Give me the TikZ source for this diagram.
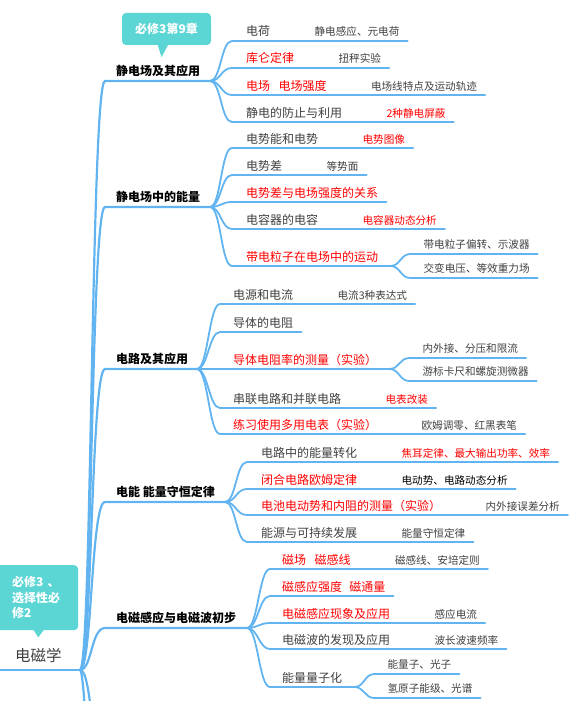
\documentclass[tikz,border=0pt]{standalone}
\usepackage{fontspec}
\setmainfont{Noto Sans CJK SC}
\usetikzlibrary{calc,positioning}
\definecolor{wire}{RGB}{98,180,240}
\definecolor{tagc}{RGB}{92,213,213}
\definecolor{ink}{RGB}{64,64,64}
\definecolor{hot}{RGB}{255,0,0}

\begin{document}
\begin{tikzpicture}[x=1pt,y=-1pt,
			trunk/.style={wire,line width=2.2pt,line cap=round},
			twig/.style={wire,line width=1.8pt,line cap=round},
			lroot/.style={inner sep=0pt,anchor=base west,text=ink,font=\fontsize{15.5}{18}\selectfont},
			lone/.style={inner sep=0pt,anchor=base west,text=black,font=\bfseries\fontsize{12}{14}\selectfont},
			ltwo/.style={inner sep=0pt,anchor=base west,font=\fontsize{12}{14}\selectfont},
			lthree/.style={inner sep=0pt,font=\fontsize{10.6}{12}\selectfont},
			tag/.style={fill=tagc,rounded corners=4pt,text=white,font=\bfseries\fontsize{12}{15.5}\selectfont}]
			
			\useasboundingbox (0,0) rectangle (577,701);
			\clip (0,0) rectangle (577,701);
			
			% The root
			\coordinate (o0) at (0,670);
			\coordinate (o) at (80,670);
			\node[lroot] (root) at (15,661) {电磁学};
			\draw[trunk] (o0) -- (o);
			% Branches running off the page
			\coordinate (d1) at (105,760);
			\coordinate (d2) at (105,880);
			\draw[trunk] (o) .. controls +(12,0) and +(-14,0) .. (d1);
			\draw[trunk] (o) .. controls +(6,0) and +(-14,0) .. (d2);
			
			% Branch 1: static field
			\coordinate (s1) at (105,81);
			\coordinate (e1) at (210,81);
			\node[lone] (t1) at (116,75) {静电场及其应用};
			\draw[trunk] (o) .. controls +(12,0) and +(-14,0) .. (s1) -- (e1);
			\foreach \n/\y/\txt/\tc/\sub/\sc in {1/41/电荷/ink/静电感应、元电荷/ink,
				2/68/库仑定律/hot/扭秤实验/ink,
				3/95/电场\hspace{0.7em}电场强度/hot/电场线特点及运动轨迹/ink,
				4/122/静电的防止与利用/ink/2种静电屏蔽/hot} {
				\coordinate (s1\n) at (232,\y);
				\node[ltwo,text=\tc] (t1\n) at (246,\y-5) {\txt};
				\node[lthree,text=\sc,base right=44pt of t1\n] (u1\n) {\sub};
				\coordinate (e1\n) at ($(u1\n.east |- s1\n)+(8,0)$);
				\draw[twig] (e1) .. controls +(11,0) and +(-11,0) .. (s1\n) -- (e1\n);
			}
			
			% Branch 2: energy in the field
			\coordinate (s2) at (105,207);
			\coordinate (e2) at (210,207);
			\node[lone] (t2) at (116,201) {静电场中的能量};
			\draw[trunk] (o) .. controls +(12,0) and +(-14,0) .. (s2) -- (e2);
			\foreach \n/\y/\txt/\tc/\sub/\sc in {1/148/电势能和电势/ink/电势图像/hot,
				2/175/电势差/ink/等势面/ink,
				4/229/电容器的电容/ink/电容器动态分析/hot} {
				\coordinate (s2\n) at (232,\y);
				\node[ltwo,text=\tc] (t2\n) at (246,\y-5) {\txt};
				\node[lthree,text=\sc,base right=44pt of t2\n] (u2\n) {\sub};
				\coordinate (e2\n) at ($(u2\n.east |- s2\n)+(8,0)$);
				\draw[twig] (e2) .. controls +(11,0) and +(-11,0) .. (s2\n) -- (e2\n);
			}
			\coordinate (s23) at (232,202);
			\node[ltwo,text=hot] (t23) at (246,197) {电势差与电场强度的关系};
			\coordinate (e23) at ($(t23.east |- s23)+(8,0)$);
			\draw[twig] (e2) .. controls +(11,0) and +(-11,0) .. (s23) -- (e23);
			% Fork under the moving charge
			\coordinate (s25) at (232,266);
			\node[ltwo,text=hot] (t25) at (246,261) {带电粒子在电场中的运动};
			\coordinate (e25) at ($(t25.east |- s25)+(12,0)$);
			\draw[twig] (e2) .. controls +(11,0) and +(-11,0) .. (s25) -- (e25);
			\foreach \k/\dy/\txt in {1/-12/带电粒子偏转、示波器, 2/12/交变电压、等效重力场} {
				\coordinate (s25\k) at ($(e25)+(20,\dy)$);
				\node[lthree,text=ink,anchor=base west] (t25\k) at ($(s25\k)+(13,-6)$) {\txt};
				\coordinate (e25\k) at ($(t25\k.east |- s25\k)+(8,0)$);
				\draw[twig] (e25) .. controls +(10,0) and +(-10,0) .. (s25\k) -- (e25\k);
			}
			
			% Branch 3: circuits
			\coordinate (s3) at (105,369);
			\coordinate (e3) at (197,369);
			\node[lone] (t3) at (116,363) {电路及其应用};
			\draw[trunk] (o) .. controls +(12,0) and +(-14,0) .. (s3) -- (e3);
			\foreach \n/\y/\txt/\tc/\sub/\sc in {1/304/电源和电流/ink/电流3种表达式/ink,
				4/408/串联电路和并联电路/ink/电表改装/hot,
				5/434/练习使用多用电表（实验）/hot/欧姆调零、红黑表笔/ink} {
				\coordinate (s3\n) at (220,\y);
				\node[ltwo,text=\tc] (t3\n) at (233,\y-5) {\txt};
				\node[lthree,text=\sc,base right=44pt of t3\n] (u3\n) {\sub};
				\coordinate (e3\n) at ($(u3\n.east |- s3\n)+(8,0)$);
				\draw[twig] (e3) .. controls +(11,0) and +(-11,0) .. (s3\n) -- (e3\n);
			}
			\coordinate (s32) at (220,332);
			\node[ltwo,text=ink] (t32) at (233,327) {导体的电阻};
			\coordinate (e32) at ($(t32.east |- s32)+(8,0)$);
			\draw[twig] (e3) .. controls +(11,0) and +(-11,0) .. (s32) -- (e32);
			% Fork under the resistivity lab
			\coordinate (s33) at (220,369);
			\node[ltwo,text=hot] (t33) at (233,364) {导体电阻率的测量（实验）};
			\coordinate (e33) at ($(t33.east |- s33)+(12,0)$);
			\draw[twig] (e3) -- (s33) -- (e33);
			\foreach \k/\dy/\txt in {1/-11/内外接、分压和限流, 2/12/游标卡尺和螺旋测微器} {
				\coordinate (s33\k) at ($(e33)+(20,\dy)$);
				\node[lthree,text=ink,anchor=base west] (t33\k) at ($(s33\k)+(13,-6)$) {\txt};
				\coordinate (e33\k) at ($(t33\k.east |- s33\k)+(8,0)$);
				\draw[twig] (e33) .. controls +(10,0) and +(-10,0) .. (s33\k) -- (e33\k);
			}
			
			% Branch 4: energy conservation
			\coordinate (s4) at (105,502);
			\coordinate (e4) at (225,502);
			\node[lone] (t4) at (116,496) {电能 能量守恒定律};
			\draw[trunk] (o) .. controls +(12,0) and +(-14,0) .. (s4) -- (e4);
			\foreach \n/\y/\txt/\tc/\sub/\sc in {1/462/电路中的能量转化/ink/焦耳定律、最大输出功率、效率/hot,
				2/489/闭合电路欧姆定律/hot/电动势、电路动态分析/black,
				3/515/电池电动势和内阻的测量（实验）/hot/内外接误差分析/ink,
				4/542/能源与可持续发展/ink/能量守恒定律/ink} {
				\coordinate (s4\n) at (247,\y);
				\node[ltwo,text=\tc] (t4\n) at (261,\y-5) {\txt};
				\node[lthree,text=\sc,base right=44pt of t4\n] (u4\n) {\sub};
				\coordinate (e4\n) at ($(u4\n.east |- s4\n)+(8,0)$);
				\draw[twig] (e4) .. controls +(11,0) and +(-11,0) .. (s4\n) -- (e4\n);
			}
			
			% Branch 5: induction and waves
			\coordinate (s5) at (105,628);
			\coordinate (e5) at (247,628);
			\node[lone] (t5) at (116,622) {电磁感应与电磁波初步};
			\draw[trunk] (o) .. controls +(12,0) and +(-14,0) .. (s5) -- (e5);
			\foreach \n/\y/\txt/\tc/\sub/\sc in {1/569/磁场\hspace{0.7em}磁感线/hot/磁感线、安培定则/ink,
				3/623/电磁感应现象及应用/hot/感应电流/ink,
				4/649/电磁波的发现及应用/ink/波长波速频率/ink} {
				\coordinate (s5\n) at (270,\y);
				\node[ltwo,text=\tc] (t5\n) at (282,\y-5) {\txt};
				\node[lthree,text=\sc,base right=44pt of t5\n] (u5\n) {\sub};
				\coordinate (e5\n) at ($(u5\n.east |- s5\n)+(8,0)$);
				\draw[twig] (e5) .. controls +(11,0) and +(-11,0) .. (s5\n) -- (e5\n);
			}
			\coordinate (s52) at (270,596);
			\node[ltwo,text=hot] (t52) at (282,591) {磁感应强度\hspace{0.6em}磁通量};
			\coordinate (e52) at ($(t52.east |- s52)+(8,0)$);
			\draw[twig] (e5) .. controls +(11,0) and +(-11,0) .. (s52) -- (e52);
			% Fork under quantisation
			\coordinate (s55) at (270,687);
			\node[ltwo,text=ink] (t55) at (282,682) {能量量子化};
			\coordinate (e55) at ($(t55.east |- s55)+(12,0)$);
			\draw[twig] (e5) .. controls +(11,0) and +(-11,0) .. (s55) -- (e55);
			\foreach \k/\dy/\txt in {1/-13/能量子、光子, 2/11/氢原子能级、光谱} {
				\coordinate (s55\k) at ($(e55)+(20,\dy)$);
				\node[lthree,text=ink,anchor=base west] (t55\k) at ($(s55\k)+(13,-6)$) {\txt};
				\coordinate (e55\k) at ($(t55\k.east |- s55\k)+(8,0)$);
				\draw[twig] (e55) .. controls +(10,0) and +(-10,0) .. (s55\k) -- (e55\k);
			}
			
			% Callouts
			\node[tag,minimum width=89pt,minimum height=32pt] (g1) at (166.5,29) {必修3第9章};
			\fill[tagc] ($(g1.south)+(-9,-1)$) -- ($(g1.south)+(-5,12)$)
			-- ($(g1.south)+(2,-1)$) -- cycle;
			\node[tag,anchor=north west,align=left,text width=48pt,inner xsep=18pt,
			minimum height=65pt] (g2) at (-6,565) {必修3 、\\选择性必\\修2};
			\fill[tagc] ($(g2.south)+(-3,-1)$) -- ($(g2.south)+(2,7)$)
			-- ($(g2.south)+(8,-1)$) -- cycle;
			
		\end{tikzpicture}
\end{document}
